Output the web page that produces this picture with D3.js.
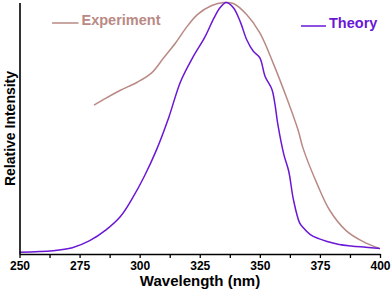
<!DOCTYPE html>
<html>
<head>
<meta charset="utf-8">
<script src="https://cdn.jsdelivr.net/npm/d3@7"></script>
<style>
  body { margin: 0; background: #fff; }
  svg { display: block; font-family: Arial, "Liberation Sans", sans-serif; }
</style>
</head>
<body>
<div id="chart"></div>
<script>
// experiment spectrum (brown)
const expWavelength = [281, 286, 292, 299, 305, 310, 315, 319, 324, 330, 335, 339, 344.5, 350, 355.5, 361, 366, 368, 374, 379, 386, 393, 399.5];
const expIntensity = [0.592, 0.62, 0.651, 0.683, 0.72, 0.78, 0.84, 0.895, 0.952, 0.988, 1.0, 0.996, 0.952, 0.879, 0.76, 0.625, 0.49, 0.42, 0.275, 0.175, 0.092, 0.049, 0.023];

// theory spectrum (purple)
const theoryWavelength = [250, 264, 272, 279, 286, 292, 297, 302, 307, 312, 317, 322, 327, 331, 333.5, 336, 339, 342, 344.5, 347.3, 350, 352.2, 355, 356.3, 357.5, 360, 362, 364, 366.5, 368, 371, 374.5, 378, 383, 388, 394, 400];
const theoryIntensity = [0.007, 0.013, 0.025, 0.052, 0.096, 0.149, 0.222, 0.31, 0.414, 0.54, 0.685, 0.78, 0.86, 0.94, 0.98, 1.0, 0.979, 0.92, 0.853, 0.806, 0.78, 0.706, 0.655, 0.595, 0.515, 0.395, 0.33, 0.215, 0.125, 0.105, 0.077, 0.061, 0.05, 0.038, 0.032, 0.027, 0.022];

const xTicks = d3.range(250, 400.1, 12.5);
const seriesNames = ["Experiment", "Theory"];
const colors = ["#b98a85", "#6a17d6"];

const width = 392, height = 291;

const svg = d3.select("#chart").append("svg")
  .attr("width", width)
  .attr("height", height);

const x = d3.scaleLinear().domain([250, 400]).range([19.5, 380]);
const y = d3.scaleLinear().domain([0, 1]).range([254, 2.5]);

const line = d3.line()
  .x(d => x(d[0]))
  .y(d => y(d[1]))
  .curve(d3.curveCatmullRom.alpha(0.5));

const series = [
  d3.zip(expWavelength, expIntensity),
  d3.zip(theoryWavelength, theoryIntensity)
];

series.forEach((pts, i) => {
  svg.append("path")
    .datum(pts)
    .attr("fill", "none")
    .attr("stroke", colors[i])
    .attr("stroke-width", 1.5)
    .attr("d", line);
});

// x axis
const xAxis = svg.append("g")
  .attr("transform", `translate(0,${y(0)})`)
  .call(d3.axisBottom(x)
    .tickValues(xTicks)
    .tickSize(4)
    .tickSizeOuter(0)
    .tickPadding(3.5)
    .tickFormat(d => d % 25 === 0 ? d : ""));
xAxis.select(".domain").attr("stroke", "#000").attr("stroke-width", 1.6);
xAxis.selectAll(".tick line").attr("stroke", "#000").attr("stroke-width", 1.3);
xAxis.selectAll(".tick text")
  .attr("fill", "#000")
  .style("font-size", "12px")
  .style("font-weight", "bold")
  .style("font-family", "Arial, 'Liberation Sans', sans-serif");

// y axis, no ticks
const yAxis = svg.append("g")
  .attr("transform", `translate(${x(250)},0)`)
  .call(d3.axisLeft(y).tickValues([]).tickSizeOuter(0));
yAxis.select(".domain").attr("stroke", "#000").attr("stroke-width", 1.6);

// axis titles
svg.append("text")
  .attr("x", 200)
  .attr("y", 285.5)
  .attr("text-anchor", "middle")
  .style("font-size", "15px")
  .style("font-weight", "bold")
  .text("Wavelength (nm)");

svg.append("text")
  .attr("transform", "translate(15,128.5) rotate(-90)")
  .attr("text-anchor", "middle")
  .style("font-size", "14px")
  .style("font-weight", "bold")
  .text("Relative Intensity");

// legend
const legendPos = [
  { lx: 52, ly: 23, tx: 81.5, ty: 25 },
  { lx: 301, ly: 26, tx: 329, ty: 28 }
];
seriesNames.forEach((name, i) => {
  const p = legendPos[i];
  svg.append("line")
    .attr("x1", p.lx).attr("x2", p.tx - 3)
    .attr("y1", p.ly).attr("y2", p.ly)
    .attr("stroke", colors[i])
    .attr("stroke-width", 1.5);
  svg.append("text")
    .attr("x", p.tx)
    .attr("y", p.ty)
    .attr("fill", colors[i])
    .style("font-size", "14.5px")
    .style("font-weight", "bold")
    .text(name);
});
</script>
</body>
</html>
